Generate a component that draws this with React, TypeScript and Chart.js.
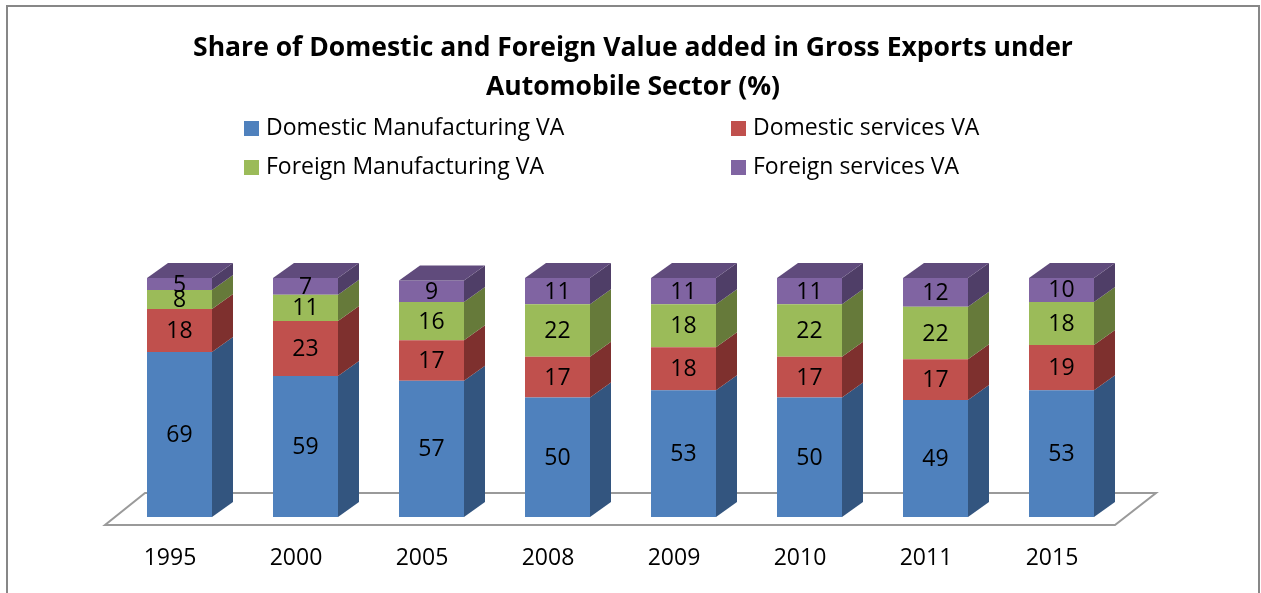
import React, { useEffect, useRef } from "react";
import { Chart, registerables } from "chart.js";

Chart.register(...registerables);

const TITLE_LINES = [
  "Share of Domestic and Foreign Value added in Gross Exports under",
  "Automobile Sector (%)",
];
const YEARS = ["1995", "2000", "2005", "2008", "2009", "2010", "2011", "2015"];
const SERIES_NAMES = [
  "Domestic Manufacturing VA",
  "Domestic services VA",
  "Foreign Manufacturing VA",
  "Foreign services VA",
];
const DOMESTIC_MFG = [69, 59, 57, 50, 53, 50, 49, 53];
const DOMESTIC_SERV = [18, 23, 17, 17, 18, 17, 17, 19];
const FOREIGN_MFG = [8, 11, 16, 22, 18, 22, 22, 18];
const FOREIGN_SERV = [5, 7, 9, 11, 11, 11, 12, 10];

const FRONT = ["#4F81BD", "#C0504D", "#9BBB59", "#8064A2"];
const SIDE = ["#33557F", "#7E302E", "#667A3A", "#4F3E67"];
const TOP = ["#3F6899", "#9A3F3D", "#7E9648", "#604B7C"];

const FONT = "'Open Sans', sans-serif";
const DX = 21;
const DY = -15;

const threeDPlugin = {
  id: "threeD",
  beforeDraw(chart: any) {
    const ctx = chart.ctx;
    ctx.save();
    ctx.fillStyle = "#ffffff";
    ctx.fillRect(0, 0, chart.width, chart.height);
    // outer border
    ctx.strokeStyle = "#878787";
    ctx.lineWidth = 2;
    ctx.strokeRect(7, 6, 1252, 700);
    // title
    ctx.fillStyle = "#000000";
    ctx.font = `bold 26.5px ${FONT}`;
    ctx.textAlign = "center";
    ctx.textBaseline = "middle";
    TITLE_LINES.forEach((t, i) => ctx.fillText(t, 633, 48 + i * 39));
    // legend
    ctx.font = `23px ${FONT}`;
    ctx.textAlign = "left";
    chart.data.datasets.forEach((ds: any, i: number) => {
      const col = i % 2;
      const row = Math.floor(i / 2);
      const mx = col === 0 ? 244 : 731;
      const cy = 128 + row * 39;
      ctx.fillStyle = ds.backgroundColor;
      ctx.fillRect(mx, cy - 7, 15, 15);
      ctx.fillStyle = "#000000";
      ctx.fillText(ds.label, mx + 22, cy);
    });
    // floor
    const { left, right, bottom } = chart.chartArea;
    const fy = bottom + 8;
    const fl = left - 11.5;
    const fr = right - 9.5;
    ctx.strokeStyle = "#9a9a9a";
    ctx.lineWidth = 2;
    ctx.beginPath();
    ctx.moveTo(fl, fy);
    ctx.lineTo(fr, fy);
    ctx.lineTo(fr + 41, fy - 32);
    ctx.lineTo(fl + 40, fy - 32);
    ctx.closePath();
    ctx.stroke();
    ctx.restore();
  },
  afterDatasetsDraw(chart: any) {
    const ctx = chart.ctx;
    ctx.save();
    const n = chart.data.datasets.length;
    const count = chart.data.labels.length;
    for (let j = 0; j < count; j++) {
      for (let i = 0; i < n; i++) {
        const el = chart.getDatasetMeta(i).data[j];
        const { x, y, base, width } = el.getProps(["x", "y", "base", "width"], true);
        const xL = x - width / 2;
        const xR = x + width / 2;
        ctx.fillStyle = SIDE[i];
        ctx.beginPath();
        ctx.moveTo(xR, y);
        ctx.lineTo(xR + DX, y + DY);
        ctx.lineTo(xR + DX, base + DY);
        ctx.lineTo(xR, base);
        ctx.closePath();
        ctx.fill();
        if (i === n - 1) {
          ctx.fillStyle = TOP[i];
          ctx.beginPath();
          ctx.moveTo(xL, y);
          ctx.lineTo(xL + DX, y + DY);
          ctx.lineTo(xR + DX, y + DY);
          ctx.lineTo(xR, y);
          ctx.closePath();
          ctx.fill();
        }
      }
    }
    // value labels
    ctx.fillStyle = "#000000";
    ctx.font = `23px ${FONT}`;
    ctx.textAlign = "center";
    ctx.textBaseline = "middle";
    for (let i = 0; i < n; i++) {
      const meta = chart.getDatasetMeta(i);
      meta.data.forEach((el: any, j: number) => {
        const { x, y, base } = el.getProps(["x", "y", "base"], true);
        ctx.fillText(String(chart.data.datasets[i].data[j]), x, (y + base) / 2 + 1);
      });
    }
    // category labels
    const xs = chart.scales.x;
    const { bottom } = chart.chartArea;
    chart.data.labels.forEach((lab: string, j: number) => {
      ctx.fillText(lab, xs.getPixelForValue(j) - 9.5, bottom + 41);
    });
    ctx.restore();
  },
};

export default function App() {
  const ref = useRef<HTMLCanvasElement | null>(null);
  useEffect(() => {
    if (!ref.current) return;
    const values = [DOMESTIC_MFG, DOMESTIC_SERV, FOREIGN_MFG, FOREIGN_SERV];
    const chart = new Chart(ref.current, {
      type: "bar",
      data: {
        labels: YEARS,
        datasets: values.map((d, i) => ({
          label: SERIES_NAMES[i],
          data: d,
          backgroundColor: FRONT[i],
          borderWidth: 0,
          barPercentage: 1,
          categoryPercentage: 65 / 126,
        })),
      },
      options: {
        responsive: false,
        animation: false,
        devicePixelRatio: 1,
        layout: { padding: { left: 116.5, right: 136.5, top: 278, bottom: 76 } },
        plugins: {
          legend: { display: false },
          title: { display: false },
          tooltip: { enabled: false },
        },
        scales: {
          x: { stacked: true, display: false },
          y: { stacked: true, display: false, min: 0, max: 100 },
        },
      },
      plugins: [threeDPlugin],
    });
    return () => chart.destroy();
  }, []);
  return (
    <div style={{ position: "fixed", left: 0, top: 0, width: 1261, height: 593, background: "#fff" }}>
      <canvas ref={ref} width={1261} height={593} style={{ display: "block" }} />
    </div>
  );
}
